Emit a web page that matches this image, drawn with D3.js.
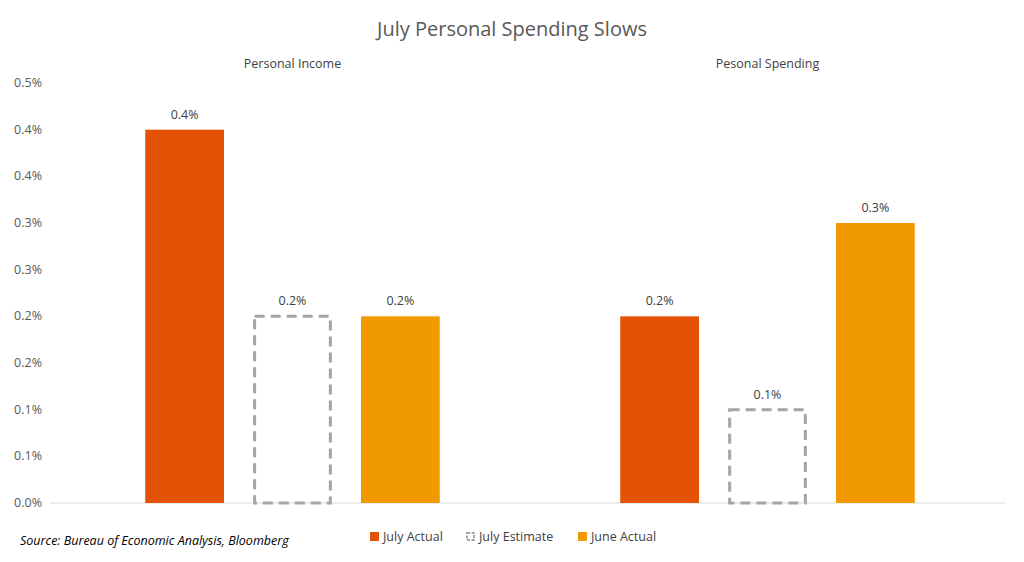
<!DOCTYPE html>
<html><head><meta charset="utf-8">
<script src="https://cdn.jsdelivr.net/npm/d3@7"></script>
<style>body{margin:0;background:#fff;font-family:"Open Sans",sans-serif;}</style>
</head><body><svg id="c" width="1024" height="562"></svg>
<script>
const categories = ["Personal Income", "Pesonal Spending"];
const seriesNames = ["July Actual", "July Estimate", "June Actual"];
const julyActual = [0.4, 0.2];
const julyEstimate = [0.2, 0.1];
const juneActual = [0.2, 0.3];
const yTicks = [0,0.05,0.1,0.15,0.2,0.25,0.3,0.35,0.4,0.45];
const colors = ["#E35205", "#A5A5A5", "#F09A00"];
const seriesVals = [julyActual, julyEstimate, juneActual];

const svg = d3.select("#c");
const L=55, R=1005, T=83, B=503;
const y = d3.scaleLinear().domain([0,0.45]).range([B,T]);
const x0 = d3.scaleBand().domain(categories).range([L,R]).paddingInner(0.38).paddingOuter(0.19);
const x1 = d3.scaleBand().domain(seriesNames).range([0,x0.bandwidth()]).paddingInner(0.27);

svg.append("text").attr("x",512).attr("y",36).attr("text-anchor","middle")
  .attr("font-size",20).attr("fill","#595959").text("July Personal Spending Slows");

svg.append("line").attr("x1",L-5).attr("x2",R).attr("y1",B).attr("y2",B).attr("stroke","#D9D9D9");

yTicks.forEach(t=>{
  svg.append("text").attr("x",42).attr("y",y(t)+4).attr("text-anchor","end")
   .attr("font-size",12.5).attr("fill","#595959").text(d3.format(".1f")(t*100/100+1e-9)+"%");
});

categories.forEach((c,i)=>{
  const gx = x0(c);
  svg.append("text").attr("x",gx+x0.bandwidth()/2).attr("y",68).attr("text-anchor","middle")
    .attr("font-size",12.5).attr("fill","#404040").text(c);
  seriesNames.forEach((s,j)=>{
    const v = seriesVals[j][i];
    const bx = gx + x1(s), w = x1.bandwidth();
    if (j===1) {
      svg.append("rect").attr("x",bx+1.5).attr("y",y(v)).attr("width",w-3).attr("height",B-y(v))
        .attr("fill","none").attr("stroke",colors[j]).attr("stroke-width",3).attr("stroke-dasharray","10,6");
    } else {
      svg.append("rect").attr("x",bx).attr("y",y(v)).attr("width",w).attr("height",B-y(v)).attr("fill",colors[j]);
    }
    svg.append("text").attr("x",bx+w/2).attr("y",y(v)-11).attr("text-anchor","middle")
      .attr("font-size",12.5).attr("fill","#404040").text(d3.format(".1f")(v)+"%");
  });
});

const lx=[370,466,578];
seriesNames.forEach((s,j)=>{
  if(j===1) svg.append("rect").attr("x",lx[j]+1).attr("y",533).attr("width",7).attr("height",7)
     .attr("fill","none").attr("stroke",colors[j]).attr("stroke-width",2).attr("stroke-dasharray","3,1.5");
  else svg.append("rect").attr("x",lx[j]).attr("y",532).attr("width",9).attr("height",9).attr("fill",colors[j]);
  svg.append("text").attr("x",lx[j]+13).attr("y",541).attr("font-size",12.5).attr("fill","#404040").text(s);
});
svg.append("text").attr("x",20).attr("y",545).attr("font-size",12.5).attr("font-style","italic")
  .attr("fill","#000").text("Source: Bureau of Economic Analysis, Bloomberg");
</script></body></html>
